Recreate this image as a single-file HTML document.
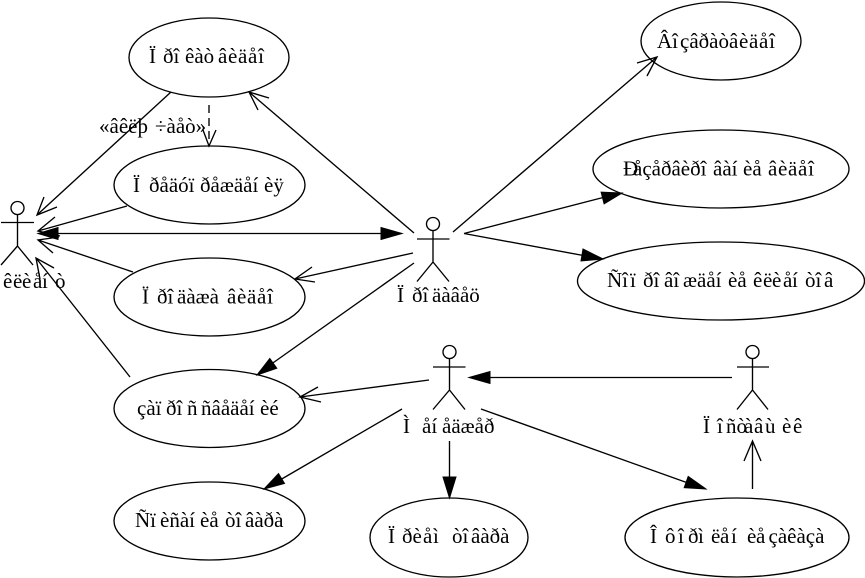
<!DOCTYPE html>
<html><head><meta charset="utf-8"><style>
html,body{margin:0;padding:0;background:#fff}
svg{display:block}
text{font-family:"Liberation Serif",serif;font-size:21px;fill:#000}
.w{letter-spacing:.7px}
.s{fill:none;stroke:#000;stroke-width:1.35}
.f{fill:#000;stroke:#000;stroke-width:1}
</style></head><body>
<svg width="865" height="578" viewBox="0 0 865 578" xmlns="http://www.w3.org/2000/svg">
<g class="s">
<ellipse cx="209" cy="57.5" rx="80" ry="39.5"/>
<ellipse cx="209.5" cy="185" rx="95.5" ry="39"/>
<ellipse cx="209.5" cy="297" rx="95.5" ry="39"/>
<ellipse cx="209.5" cy="408.5" rx="95.5" ry="39"/>
<ellipse cx="209.5" cy="521" rx="95.5" ry="39"/>
<ellipse cx="449" cy="537.5" rx="79" ry="39.5"/>
<ellipse cx="737" cy="537.5" rx="112" ry="39.5"/>
<ellipse cx="721" cy="41" rx="80" ry="39"/>
<ellipse cx="721" cy="169" rx="128" ry="39"/>
<ellipse cx="721" cy="281" rx="143.5" ry="39"/>
<!-- actors -->
<circle cx="17.5" cy="208" r="6.5"/><path d="M1 222.5H34M17.5 214.5V246M17.5 246L1 265M17.5 246L33 265"/>
<circle cx="433" cy="224" r="6.5"/><path d="M417 239H449.5M433 230.5V262M433 262L417 281.5M433 262L449 281.5"/>
<circle cx="449.5" cy="352" r="6.5"/><path d="M433 367H465.5M449.5 358.5V390M449.5 390L433 409.5M449.5 390L465 409.5"/>
<circle cx="752.5" cy="352" r="6.5"/><path d="M737 367H769M752.5 358.5V390M752.5 390L737 409.5M752.5 390L768 409.5"/>
<!-- edges -->
<path d="M171 92L37 215M57 207L37 215L44 197"/>
<path d="M414 233L249 92M269 98L249 92L258 110"/>
<path d="M209 105V146" stroke-dasharray="8 5"/><path d="M203 130L209 146L216 130"/>
<path d="M127 206L38 231M55 217L38 231L60 236"/>
<path d="M58 233.5H383"/>
<path d="M133 272L38 240M53 253L38 240L59 237"/>
<path d="M413 253L295 279M312 267L295 279L315 282"/>
<path d="M414 263L270 365"/>
<path d="M130 377L36 258M54 268L36 258L40 279"/>
<path d="M429 380L300 397M318 387L300 397L321 402"/>
<path d="M402 409L280 480"/>
<path d="M449.5 441V480"/>
<path d="M481 409L688 483"/>
<path d="M732 377.5H488"/>
<path d="M752.5 489V441M744 461L752.5 441L761 461"/>
<path d="M453 232L657 57M637 63L657 57L647 76"/>
<path d="M464 233.5L605 197"/>
<path d="M464 233.5L586 256"/>
</g>
<g class="f">
<polygon points="38,233.5 58,227.5 58,239.5"/>
<polygon points="402,233.5 381,227.5 381,239.5"/>
<polygon points="257,375 276.8,368.3 269.8,358.5"/>
<polygon points="264,489 284.5,483.5 278.5,473.6"/>
<polygon points="449.5,498 443,477 456,477"/>
<polygon points="706,489 684.2,487.7 688.2,476.4"/>
<polygon points="469,377.5 490,371.5 490,383.5"/>
<polygon points="622,193 601.1,192.2 604.1,203.8"/>
<polygon points="603,259 583,249 581,261"/>
</g>
<text y="63"><tspan x="149">Ï</tspan><tspan x="163">ðî</tspan><tspan x="185">êàò</tspan><tspan x="218" class="w">âèäåî</tspan></text>
<text y="133"><tspan x="99">«âêëþ</tspan><tspan x="155">÷àåò»</tspan></text>
<text y="192"><tspan x="133">Ï</tspan><tspan x="149">ðåäóï</tspan><tspan x="200">ðåæäåí</tspan><tspan x="264">èÿ</tspan></text>
<text y="303.5"><tspan x="142">Ï</tspan><tspan x="157">ðî</tspan><tspan x="177">äàæà</tspan><tspan x="227" class="w">âèäåî</tspan></text>
<text y="415"><tspan x="137">çàï</tspan><tspan x="166">ðî</tspan><tspan x="187">ñ</tspan><tspan x="201">ñâåäåí</tspan><tspan x="260">èé</tspan></text>
<text y="527"><tspan x="135">Ñï</tspan><tspan x="160">èñàí</tspan><tspan x="200">èå</tspan><tspan x="225">òî</tspan><tspan x="245">âàðà</tspan></text>
<text y="543"><tspan x="388">Ï</tspan><tspan x="402">ðè</tspan><tspan x="423">å</tspan><tspan x="433">ì</tspan><tspan x="452">òî</tspan><tspan x="471">âàðà</tspan></text>
<text y="543"><tspan x="650">Î</tspan><tspan x="665">ô</tspan><tspan x="678">î</tspan><tspan x="688">ð</tspan><tspan x="698">ì</tspan><tspan x="711">ë</tspan><tspan x="720">å</tspan><tspan x="731">í</tspan><tspan x="747">è</tspan><tspan x="756">å</tspan><tspan x="768.5">çàêàçà</tspan></text>
<text y="48"><tspan x="657">Âî</tspan><tspan x="680">çâðàò</tspan><tspan x="729" class="w">âèäåî</tspan></text>
<text y="175.5"><tspan x="623">Ð</tspan><tspan x="633">åçåðâèðî</tspan><tspan x="713">âàí</tspan><tspan x="743">èå</tspan><tspan x="768" class="w">âèäåî</tspan></text>
<text y="287"><tspan x="607">Ñî</tspan><tspan x="630">ï</tspan><tspan x="643">ðî</tspan><tspan x="664">âî</tspan><tspan x="683">æäåí</tspan><tspan x="728">èå</tspan><tspan x="753">ê</tspan><tspan x="763">ë</tspan><tspan x="772">è</tspan><tspan x="783">å</tspan><tspan x="792">í</tspan><tspan x="805">òî</tspan><tspan x="824">â</tspan></text>
<text y="288"><tspan x="3">ê</tspan><tspan x="13">ë</tspan><tspan x="22">è</tspan><tspan x="33">å</tspan><tspan x="42">í</tspan><tspan x="55">ò</tspan></text>
<text y="302"><tspan x="397">Ï</tspan><tspan x="412">ðî</tspan><tspan x="432">äàâåö</tspan></text>
<text y="433"><tspan x="403">Ì</tspan><tspan x="422">åí</tspan><tspan x="442">åäæåð</tspan></text>
<text y="433"><tspan x="703">Ï</tspan><tspan x="717">î</tspan><tspan x="726">ñò</tspan><tspan x="744">à</tspan><tspan x="754">â</tspan><tspan x="765">ù</tspan><tspan x="782">è</tspan><tspan x="793">ê</tspan></text>
</svg>
</body></html>
